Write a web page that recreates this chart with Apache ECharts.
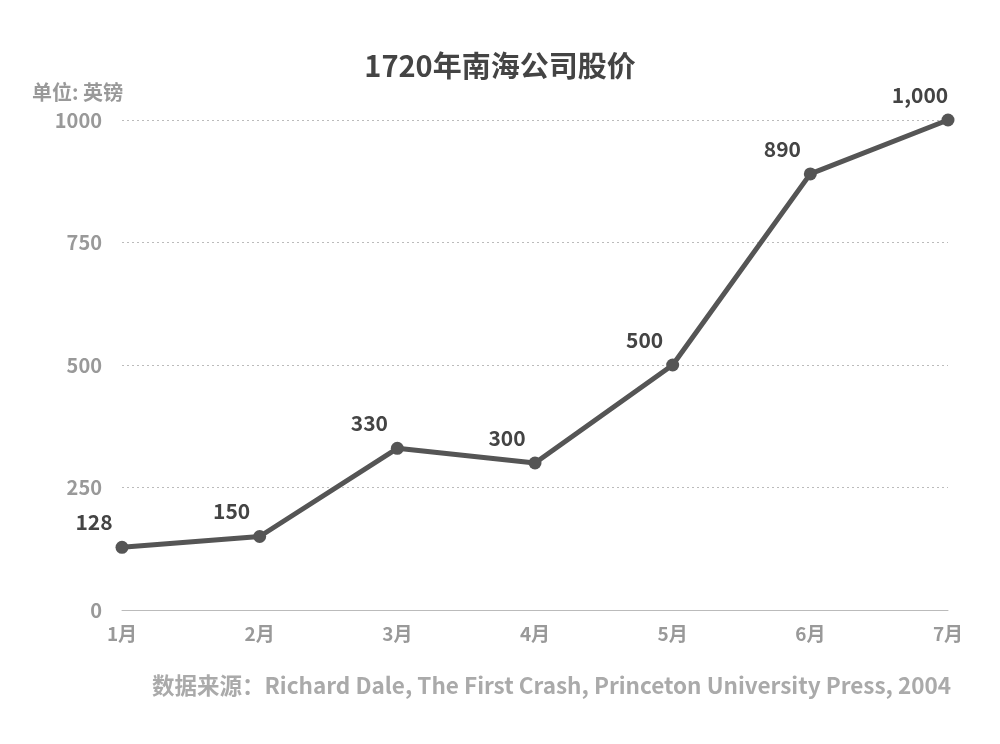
<!DOCTYPE html>
<html><head><meta charset="utf-8">
<script src="https://cdn.jsdelivr.net/npm/echarts@6/dist/echarts.min.js"></script>
<style>html,body{margin:0;padding:0;background:#fff}#c{width:1000px;height:744px}</style>
</head><body><div id="c"></div>
<script>
const categories = ['1月','2月','3月','4月','5月','6月','7月'];
const prices = [128,150,330,300,500,890,1000];
const yTicks = [0,250,500,750,1000];
const font = '"Noto Sans CJK SC","Noto Sans",sans-serif';
const chart = echarts.init(document.getElementById('c'));
chart.setOption({
  backgroundColor:'#fff',
  title:{text:'1720年南海公司股价',left:'center',top:46,textStyle:{fontFamily:font,fontSize:29,fontWeight:'bold',color:'#444'}},
  graphic:[
    {type:'text',left:32,top:82,style:{text:'单位: 英镑',font:'bold 20px '+font,fill:'#999'}},
    {type:'text',left:152,top:674,style:{text:'数据来源：Richard Dale, The First Crash, Princeton University Press, 2004',font:'bold 22.5px '+font,fill:'#aaa'}}
  ],
  grid:{left:122,right:52,top:120,bottom:134},
  xAxis:{type:'category',data:categories,boundaryGap:false,
    axisLine:{lineStyle:{color:'#bbb',width:1}},axisTick:{show:false},
    axisLabel:{color:'#999',fontWeight:'bold',fontSize:19,fontFamily:font,margin:14}},
  yAxis:{type:'value',min:0,max:1000,interval:250,
    axisLine:{show:false},axisTick:{show:false},
    splitLine:{lineStyle:{color:'#bbb',type:[2,3],width:1}},
    axisLabel:{color:'#999',fontWeight:'bold',fontSize:20,fontFamily:font,margin:20,
      formatter:v=>yTicks.includes(v)?String(v):''}},
  series:[{type:'line',data:prices,symbol:'circle',symbolSize:13,
    lineStyle:{color:'#555',width:5},itemStyle:{color:'#555'},
    label:{show:true,position:'top',offset:[-28,-3],color:'#444',fontWeight:'bold',fontSize:21,fontFamily:font,
      formatter:p=>p.value.toLocaleString('en-US')}}]
});
</script></body></html>
